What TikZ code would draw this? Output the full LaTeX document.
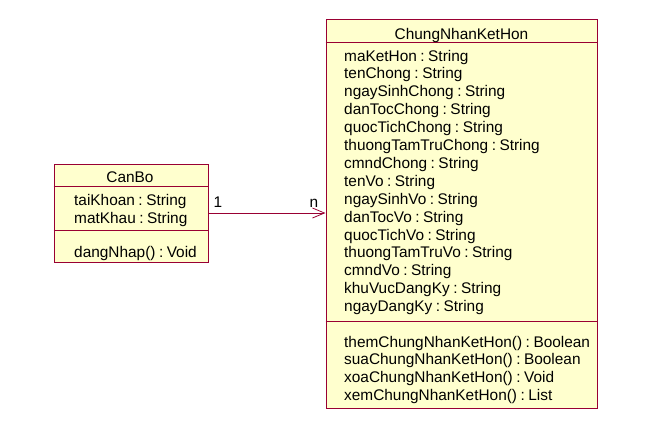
\documentclass[tikz,border=0pt]{standalone}
\usepackage{fontspec}
\setmainfont{Liberation Sans}
\usetikzlibrary{arrows.meta,calc}
\usepackage{xcolor}
\definecolor{roseline}{RGB}{153,0,51}
\definecolor{rosefill}{RGB}{255,255,206}
% tight " : " as in the reference
\newcommand{\typeof}{\hspace{3.5pt}:\hspace{3.5pt}}

\tikzset{
    classbox/.style={draw=roseline,fill=rosefill,line width=1pt,inner sep=0pt},
    member/.style={anchor=base west,inner sep=0pt,font=\fontsize{15.4}{18}\selectfont},
    classname/.style={member,anchor=base},
    assoc/.style={draw=roseline,line width=1pt,-{Straight Barb[length=12pt,width=10pt,line width=0.8pt]}}
}

\begin{document}
\begin{tikzpicture}[x=1pt,y=-1pt]

    % Canvas is 645x429px, one px is one pt.
    \useasboundingbox (0,0) rectangle (645,429);

    % CanBo
    \node[classbox,minimum width=154,minimum height=98] (canbo) at (131,213) {};
    \draw[roseline,line width=1pt] ($(canbo.north west)+(0,23)$) -- ($(canbo.north east)+(0,23)$);
    \draw[roseline,line width=1pt] ($(canbo.north west)+(0,67)$) -- ($(canbo.north east)+(0,67)$);
    \node[classname] (canboname) at (130,182) {CanBo};
    \node[member] (taikhoan) at (74,205) {taiKhoan\typeof String};
    \node[member] (matkhau) at (74,223) {matKhau\typeof String};
    \node[member] (dangnhap) at (74,257) {dangNhap()\typeof Void};

    % ChungNhanKetHon
    \node[classbox,minimum width=271,minimum height=389] (cnkh) at (461.5,213.5) {};
    \draw[roseline,line width=1pt] ($(cnkh.north west)+(0,24)$) -- ($(cnkh.north east)+(0,24)$);
    \draw[roseline,line width=1pt] ($(cnkh.north west)+(0,303)$) -- ($(cnkh.north east)+(0,303)$);
    \node[classname] (cnkhname) at (461.5,39) {ChungNhanKetHon};

    % attributes, 17.9px apart
    \foreach \attr [count=\i from 0] in {maKetHon,tenChong,ngaySinhChong,danTocChong,
            quocTichChong,thuongTamTruChong,cmndChong,tenVo,ngaySinhVo,danTocVo,
            quocTichVo,thuongTamTruVo,cmndVo,khuVucDangKy,ngayDangKy}
        \node[member] (attr\i) at (344,61+17.9*\i) {\attr\typeof String};

    % operations
    \foreach \op/\ret [count=\i from 0] in {them/Boolean,sua/Boolean,xoa/Void,xem/List}
        \node[member] (op\i) at (344,347+17.7*\i) {\op ChungNhanKetHon()\typeof\ret};

    % association
    \draw[assoc] (canbo.east) -- (cnkh.west |- canbo.east);
    \node[member,anchor=base] (mult1) at (218,207) {1};
    \node[member,anchor=base] (multn) at (314,207) {n};

\end{tikzpicture}
\end{document}
